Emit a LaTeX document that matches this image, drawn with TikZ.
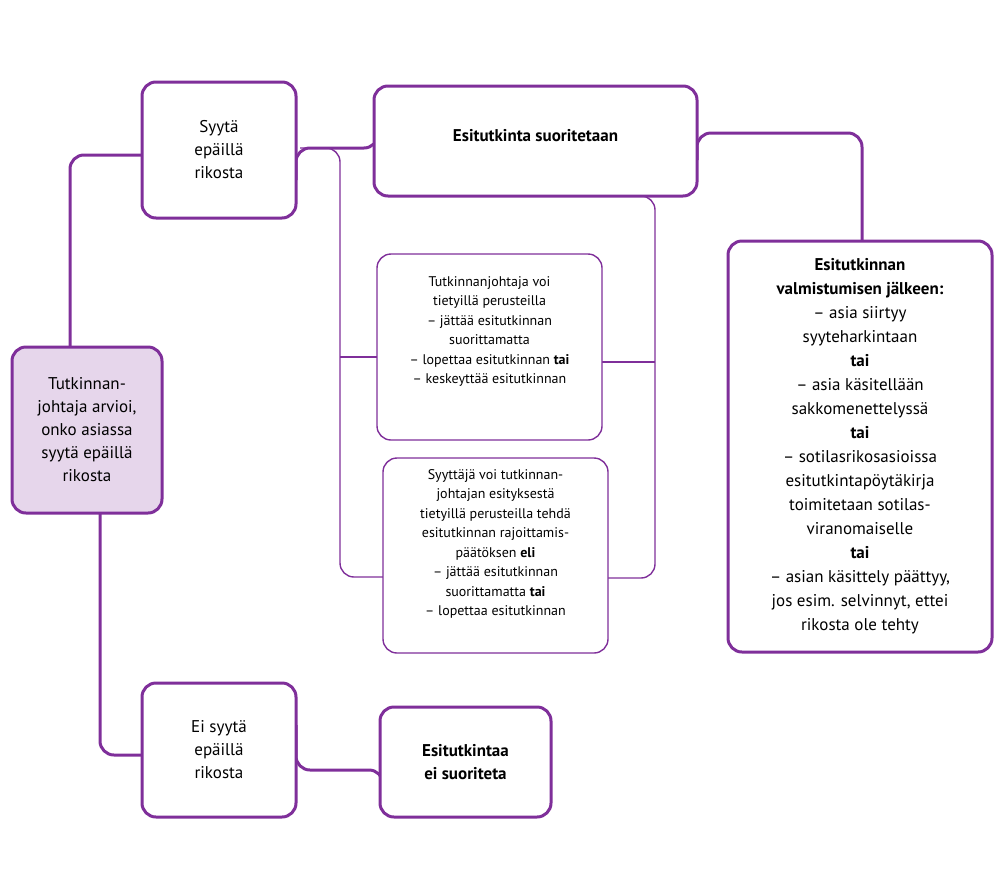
\documentclass[tikz,border=0pt]{standalone}
\usepackage{fontspec}
\setmainfont{PT Sans}
\definecolor{pur}{HTML}{7F2F9A}
\definecolor{lil}{HTML}{E6D6EB}
\begin{document}
\begin{tikzpicture}[x=1pt,y=-1pt,
  box/.style={draw=pur,line width=3pt,rounded corners=14pt,align=center,inner sep=0pt,fill=white},
  tbox/.style={draw=pur,line width=1.4pt,rounded corners=14pt,align=center,inner sep=0pt,fill=white},
  con/.style={draw=pur,line width=3pt,rounded corners=14pt},
  tcon/.style={draw=pur,line width=1.4pt,rounded corners=14pt}]
\useasboundingbox (0,0) rectangle (1001,876);
% connectors first
\coordinate (ab) at (70,347);
\coordinate (ag) at (100,513);
\draw[con] (ab) -- (70,155) -- (142,155);
\draw[con] (ag) -- (100,755) -- (142,755);
\draw[con] (296,180) -- (296,148) -- (378,148) -- (378,100);
\draw[con] (697,160) -- (697,133) -- (862,133) -- (862,241);
\draw[con] (296,725) -- (296,770) -- (383,770) -- (383,790);
\draw[tcon] (300,148) -- (340,148) -- (340,577) -- (383,577);
\draw[tcon] (340,357) -- (377,357);
\draw[tcon] (620,196) -- (655,196) -- (655,578) -- (608,578);
\draw[tcon] (655,362) -- (602,362);
% boxes
\node[box,fill=lil,minimum width=150pt,minimum height=166pt,font=\fontsize{17}{23}\selectfont] (A) at (87,430)
 {Tutkinnan-\\johtaja arvioi,\\onko asiassa\\syytä epäillä\\rikosta};
\node[box,minimum width=154pt,minimum height=136pt,font=\fontsize{17}{23}\selectfont] (B) at (219,150)
 {Syytä\\epäillä\\rikosta};
\node[box,minimum width=323pt,minimum height=110pt,font=\bfseries\fontsize{17}{23}\selectfont] (C) at (535.5,141)
 {\raisebox{12pt}{Esitutkinta suoritetaan}};
\node[box,minimum width=264pt,minimum height=411pt,font=\fontsize{17}{24}\selectfont] (D) at (860,446.5)
 {\textbf{Esitutkinnan}\\\textbf{valmistumisen jälkeen:}\\– asia siirtyy\\syyteharkintaan\\\textbf{tai}\\– asia käsitellään\\sakkomenettelyssä\\\textbf{tai}\\– sotilasrikosasioissa\\esitutkintapöytäkirja\\toimitetaan sotilas-\\viranomaiselle\\\textbf{tai}\\– asian käsittely päättyy,\\jos esim. selvinnyt, ettei\\rikosta ole tehty};
\node[tbox,minimum width=225pt,minimum height=186pt,font=\fontsize{14}{19.5}\selectfont] (E) at (489.5,347)
 {Tutkinnanjohtaja voi\\tietyillä perusteilla\\– jättää esitutkinnan\\suorittamatta\\– lopettaa esitutkinnan \textbf{tai}\\– keskeyttää esitutkinnan\\[14pt]};
\node[tbox,minimum width=225pt,minimum height=195pt,font=\fontsize{14}{19.5}\selectfont] (F) at (495.5,555.5)
 {Syyttäjä voi tutkinnan-\\johtajan esityksestä\\tietyillä perusteilla tehdä\\esitutkinnan rajoittamis-\\päätöksen \textbf{eli}\\– jättää esitutkinnan\\suorittamatta \textbf{tai}\\– lopettaa esitutkinnan\\[6pt]};
\node[box,minimum width=154pt,minimum height=134pt,font=\fontsize{17}{23}\selectfont] (G) at (219,750)
 {Ei syytä\\epäillä\\rikosta};
\node[box,minimum width=171pt,minimum height=110pt,font=\bfseries\fontsize{17}{23}\selectfont] (H) at (465.5,762)
 {Esitutkintaa\\ei suoriteta};
\end{tikzpicture}
\end{document}
